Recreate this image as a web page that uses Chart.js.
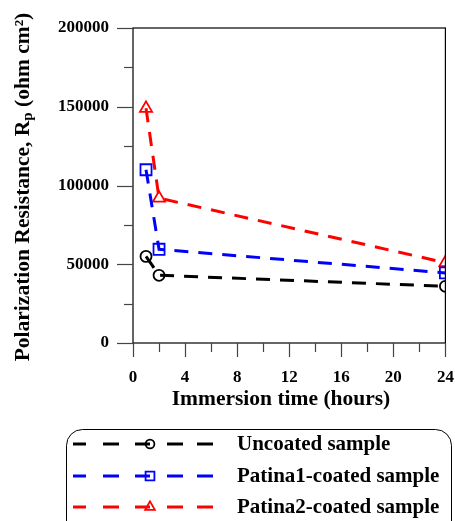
<!DOCTYPE html>
<html>
<head>
<meta charset="utf-8">
<script src="https://cdn.jsdelivr.net/npm/chart.js@4"></script>
<style>
  html, body { margin: 0; padding: 0; background: #fff; }
  #wrap { width: 455px; height: 521px; }
</style>
</head>
<body>
<div id="wrap"><canvas id="rpChart" width="455" height="521"></canvas></div>
<script>
// Data
const hours = [1, 2, 24];
const uncoated = [55000, 43000, 36000];
const patina1 = [110000, 59500, 44500];
const patina2 = [149000, 92000, 51000];
const seriesNames = ['Uncoated sample', 'Patina1-coated sample', 'Patina2-coated sample'];
const seriesColors = ['#000000', '#0000ff', '#ff0000'];
const seriesMarkers = ['circle', 'rect', 'triangle'];
const markerSizes = { circle: 5.5, rect: 7.8, triangle: 7 };

const SERIF = '"Liberation Serif", "Times New Roman", serif';

function makeSet(i, values) {
    return {
        label: seriesNames[i],
        data: hours.map((h, k) => ({ x: h, y: values[k] })),
        borderColor: seriesColors[i],
        backgroundColor: 'rgba(0,0,0,0)',
        borderWidth: 3,
        borderDash: [14, 10],
        pointStyle: seriesMarkers[i],
        pointRadius: markerSizes[seriesMarkers[i]],
        pointBorderWidth: 1.8,
        pointBorderColor: seriesColors[i],
        pointBackgroundColor: 'rgba(255,255,255,0)',
        tension: 0
    };
}

// --- custom drawing: ticks, frame, titles, legend ---
const decorPlugin = {
    id: 'decor',
    afterDraw(chart) {
        const ctx = chart.ctx;
        const a = chart.chartArea;
        const xs = chart.scales.x, ys = chart.scales.y;
        ctx.save();
        // frame
        ctx.strokeStyle = '#000';
        ctx.lineWidth = 1.2;
        ctx.strokeRect(a.left, a.top, a.right - a.left, a.bottom - a.top);
        // y ticks
        ctx.strokeStyle = '#444';
        for (let v = 0; v <= 200000; v += 25000) {
            const y = Math.round(ys.getPixelForValue(v)) + 0.5;
            const len = v % 50000 === 0 ? 16 : 9;
            ctx.beginPath(); ctx.moveTo(a.left - len, y); ctx.lineTo(a.left, y); ctx.stroke();
        }
        // x ticks
        for (let v = 0; v <= 24; v += 2) {
            const x = Math.round(xs.getPixelForValue(v)) + 0.5;
            const len = v % 4 === 0 ? 14 : 9;
            ctx.beginPath(); ctx.moveTo(x, a.bottom); ctx.lineTo(x, a.bottom + len); ctx.stroke();
        }
        // x title
        ctx.fillStyle = '#000';
        ctx.font = 'bold 21.5px ' + SERIF;
        ctx.textAlign = 'center';
        ctx.textBaseline = 'middle';
        ctx.fillText('Immersion time (hours)', 281, 399);
        // y title with subscript
        ctx.translate(23, 187);
        ctx.rotate(-Math.PI / 2);
        const p1 = 'Polarization Resistance, R', p2 = 'p', p3 = ' (ohm cm\u00b2)';
        const big = 'bold 21.5px ' + SERIF, small = 'bold 15px ' + SERIF;
        ctx.font = big; const w1 = ctx.measureText(p1).width, w3 = ctx.measureText(p3).width;
        ctx.font = small; const w2 = ctx.measureText(p2).width;
        let sx = -(w1 + w2 + w3) / 2;
        ctx.textAlign = 'left';
        ctx.font = big; ctx.fillText(p1, sx, 0); sx += w1;
        ctx.font = small; ctx.fillText(p2, sx, 5); sx += w2;
        ctx.font = big; ctx.fillText(p3, sx, 0);
        ctx.restore();

        // legend box
        ctx.save();
        ctx.strokeStyle = '#000';
        ctx.lineWidth = 1;
        ctx.beginPath();
        ctx.roundRect(66.5, 429.5, 385, 110, 16);
        ctx.stroke();
        const rows = [444, 476, 507];
        const segs = [[73, 86], [103, 119], [135, 150], [167, 183], [197, 213]];
        chart.data.datasets.forEach((ds, i) => {
            const y = rows[i];
            ctx.strokeStyle = ds.borderColor;
            ctx.fillStyle = 'rgba(255,255,255,0)';
            ctx.lineWidth = 3;
            segs.forEach(s => { ctx.beginPath(); ctx.moveTo(s[0], y); ctx.lineTo(s[1], y); ctx.stroke(); });
            ctx.lineWidth = 1.8;
            Chart.helpers.drawPoint(ctx, {
                pointStyle: ds.pointStyle, radius: ds.pointRadius * 0.8, borderWidth: 1.8
            }, 150, y);
            ctx.fillStyle = '#000';
            ctx.font = 'bold 21px ' + SERIF;
            ctx.textAlign = 'left';
            ctx.textBaseline = 'middle';
            ctx.fillText(ds.label, 237, y + 1);
        });
        ctx.restore();
    }
};

new Chart(document.getElementById('rpChart').getContext('2d'), {
    type: 'line',
    data: {
        datasets: [makeSet(0, uncoated), makeSet(1, patina1), makeSet(2, patina2)]
    },
    options: {
        responsive: false,
        animation: false,
        layout: { padding: { left: 33, top: 28, right: 9, bottom: 128 } },
        plugins: { legend: { display: false }, tooltip: { enabled: false } },
        scales: {
            x: {
                type: 'linear', min: 0, max: 24,
                afterFit: s => { s.height = 50; s.paddingLeft = 0; s.paddingRight = 0; },
                border: { display: false },
                grid: { display: false, drawTicks: false },
                ticks: {
                    stepSize: 2, padding: 24, color: '#000', maxRotation: 0,
                    font: { family: SERIF, size: 17, weight: 'bold' },
                    callback: v => (v % 4 === 0 ? v : '')
                }
            },
            y: {
                min: 0, max: 200000,
                afterFit: s => { s.width = 100; s.paddingTop = 0; s.paddingBottom = 0; },
                border: { display: false },
                grid: { display: false, drawTicks: false },
                ticks: {
                    stepSize: 25000, padding: 24, color: '#000',
                    font: { family: SERIF, size: 17, weight: 'bold' },
                    callback: v => (v % 50000 === 0 ? v : '')
                }
            }
        }
    },
    plugins: [decorPlugin]
});
</script>
</body>
</html>
